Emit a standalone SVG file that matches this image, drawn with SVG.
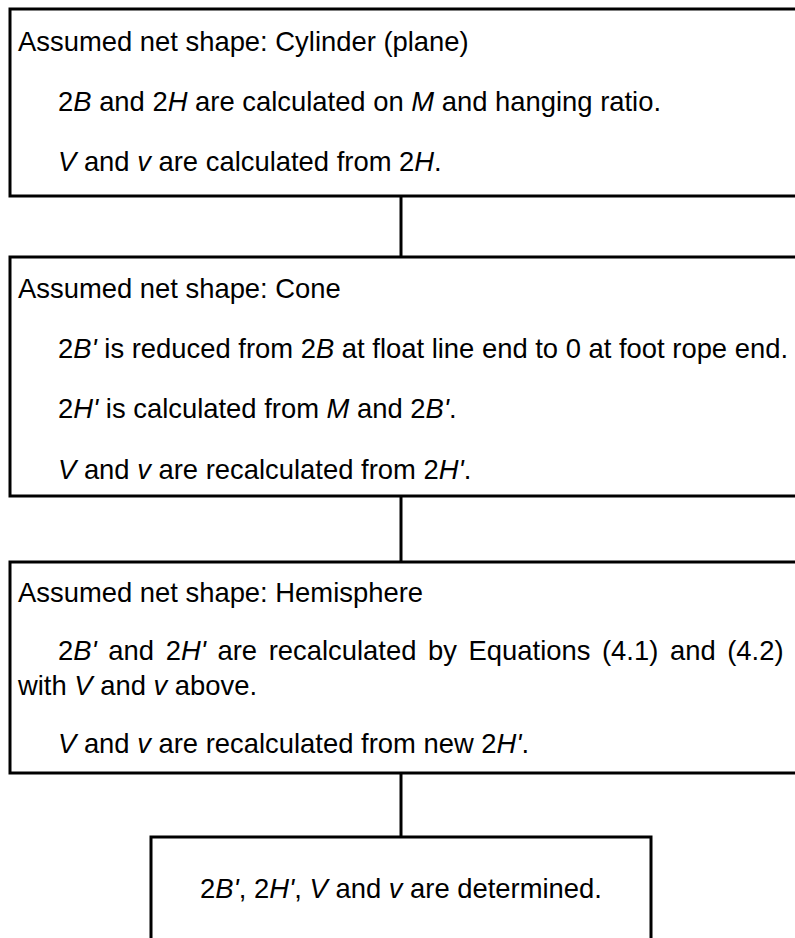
<svg xmlns="http://www.w3.org/2000/svg" width="795" height="938" viewBox="0 0 795 938">
<style>
.box{fill:#fff;stroke:#000;stroke-width:3}
.t{font-family:"Liberation Sans",Arial,sans-serif;font-size:27.4px;fill:#000}
.i{font-style:italic}
.c{stroke:#000;stroke-width:3;fill:none}
</style>
<rect x="0" y="0" width="795" height="938" fill="#fff"/>
<g id="connectors">
<line class="c" x1="401" y1="196" x2="401" y2="257"/>
<line class="c" x1="401" y1="496" x2="401" y2="562"/>
<line class="c" x1="401" y1="773" x2="401" y2="837"/>
</g>
<g id="node1">
<rect class="box" x="10" y="9" width="800" height="187"/>
<text class="t" x="18" y="51">Assumed net shape: Cylinder (plane)</text>
<text class="t" x="58" y="111">2<tspan class="i">B</tspan> and 2<tspan class="i">H</tspan> are calculated on <tspan class="i">M</tspan> and hanging ratio.</text>
<text class="t" x="58" y="171"><tspan class="i">V</tspan> and <tspan class="i">v</tspan> are calculated from 2<tspan class="i">H</tspan>.</text>
</g>
<g id="node2">
<rect class="box" x="10" y="257" width="800" height="239"/>
<text class="t" x="18" y="298">Assumed net shape: Cone</text>
<text class="t" x="58" y="358">2<tspan class="i">B'</tspan> is reduced from 2<tspan class="i">B</tspan> at float line end to 0 at foot rope end.</text>
<text class="t" x="58" y="418">2<tspan class="i">H'</tspan> is calculated from <tspan class="i">M</tspan> and 2<tspan class="i">B'</tspan>.</text>
<text class="t" x="58" y="479"><tspan class="i">V</tspan> and <tspan class="i">v</tspan> are recalculated from 2<tspan class="i">H'</tspan>.</text>
</g>
<g id="node3">
<rect class="box" x="10" y="562" width="800" height="211"/>
<text class="t" x="18" y="602">Assumed net shape: Hemisphere</text>
<text class="t" x="58" y="660" word-spacing="4">2<tspan class="i">B'</tspan> and 2<tspan class="i">H'</tspan> are recalculated by Equations (4.1) and (4.2)</text>
<text class="t" x="18" y="695">with <tspan class="i">V</tspan> and <tspan class="i">v</tspan> above.</text>
<text class="t" x="58" y="753"><tspan class="i">V</tspan> and <tspan class="i">v</tspan> are recalculated from new 2<tspan class="i">H'</tspan>.</text>
</g>
<g id="node4">
<rect class="box" x="151" y="837" width="500" height="120"/>
<text class="t" x="401" y="898" text-anchor="middle">2<tspan class="i">B'</tspan>, 2<tspan class="i">H'</tspan>, <tspan class="i">V</tspan> and <tspan class="i">v</tspan> are determined.</text>
</g>
</svg>
